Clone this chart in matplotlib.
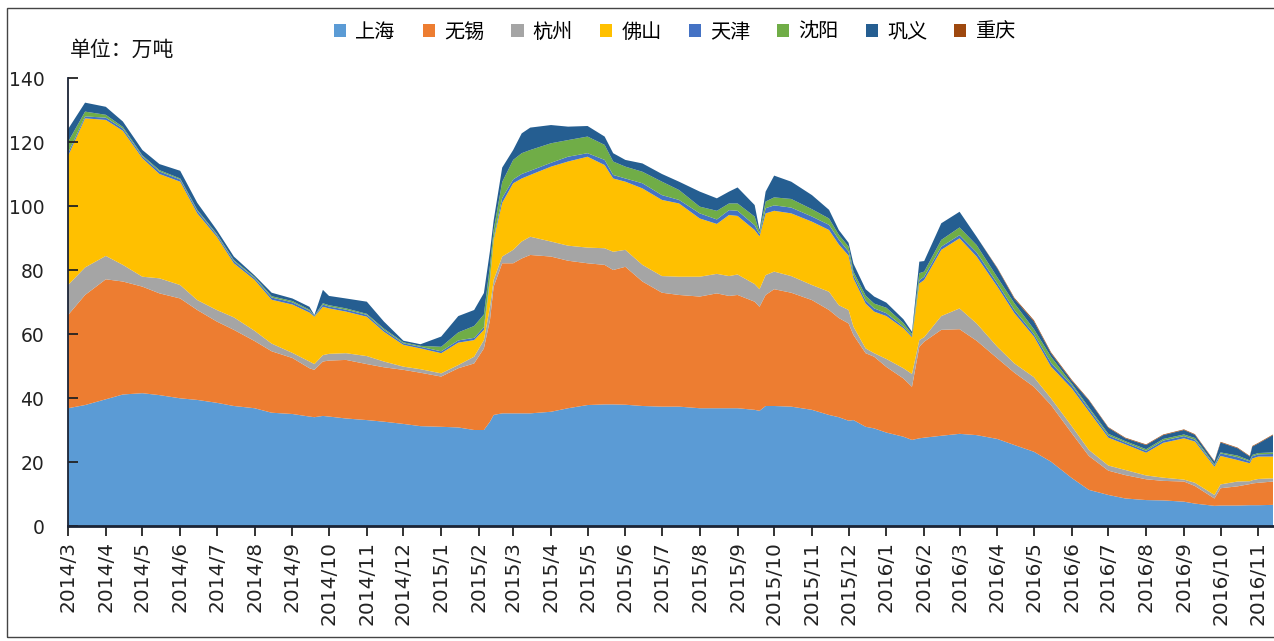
import matplotlib
matplotlib.use("Agg")
import matplotlib.pyplot as plt
from matplotlib.patches import Rectangle, Patch
import pandas as pd

dates = ["2014-03-01", "2014-03-15", "2014-04-01", "2014-04-15", "2014-05-01", "2014-05-15",
         "2014-06-01", "2014-06-15", "2014-07-01", "2014-07-15", "2014-08-01", "2014-08-15",
         "2014-09-01", "2014-09-15", "2014-09-19", "2014-09-26", "2014-10-01", "2014-10-15",
         "2014-11-01", "2014-11-15", "2014-12-01", "2014-12-15", "2015-01-01", "2015-01-15",
         "2015-01-28", "2015-02-05", "2015-02-10", "2015-02-13", "2015-02-20", "2015-03-01",
         "2015-03-08", "2015-03-15", "2015-04-01", "2015-04-15", "2015-05-01", "2015-05-15",
         "2015-05-22", "2015-06-01", "2015-06-15", "2015-07-01", "2015-07-15", "2015-08-01",
         "2015-08-15", "2015-08-25", "2015-09-01", "2015-09-15", "2015-09-19", "2015-09-24",
         "2015-10-01", "2015-10-15", "2015-11-01", "2015-11-15", "2015-11-23", "2015-12-01",
         "2015-12-05", "2015-12-15", "2015-12-22", "2016-01-01", "2016-01-15", "2016-01-22",
         "2016-01-28", "2016-02-01", "2016-02-15", "2016-03-01", "2016-03-15", "2016-04-01",
         "2016-04-15", "2016-05-01", "2016-05-15", "2016-06-01", "2016-06-15", "2016-07-01",
         "2016-07-15", "2016-08-01", "2016-08-15", "2016-09-01", "2016-09-10", "2016-09-26",
         "2016-10-01", "2016-10-15", "2016-10-25", "2016-10-27", "2016-11-01", "2016-11-13"]

shanghai = [36.8, 37.8, 39.6, 41.1, 41.5, 40.9, 39.9, 39.4, 38.5, 37.5, 36.8, 35.4,
            35.0, 34.2, 34.0, 34.4, 34.2, 33.6, 33.1, 32.6, 31.9, 31.2, 31.0, 30.8,
            30.0, 30.0, 32.6, 34.7, 35.2, 35.2, 35.2, 35.2, 35.7, 36.8, 37.8, 38.0,
            38.0, 37.9, 37.5, 37.3, 37.3, 36.8, 36.8, 36.8, 36.8, 36.3, 36.0, 37.5,
            37.5, 37.3, 36.3, 34.7, 34.0, 32.9, 33.1, 31.0, 30.5, 29.2, 27.9, 26.9,
            27.4, 27.6, 28.2, 28.8, 28.4, 27.2, 25.3, 23.2, 20.1, 15.0, 11.3, 9.7,
            8.6, 8.1, 8.0, 7.6, 7.0, 6.3, 6.4, 6.4, 6.5, 6.5, 6.5, 6.6]
wuxi = [29.1, 34.4, 37.5, 35.3, 33.3, 31.8, 31.2, 28.1, 25.4, 23.8, 21.0, 19.2,
        17.5, 15.1, 14.8, 17.0, 17.5, 18.3, 17.5, 17.0, 16.9, 16.7, 15.7, 18.5,
        20.8, 25.5, 31.8, 40.1, 46.9, 46.9, 48.4, 49.5, 48.5, 46.1, 44.3, 43.6,
        42.0, 43.1, 38.9, 35.6, 34.9, 34.9, 35.9, 35.1, 35.4, 33.8, 32.5, 34.7,
        36.5, 35.6, 34.3, 32.8, 31.0, 30.4, 26.6, 23.0, 22.4, 20.5, 18.2, 16.6,
        28.6, 30.0, 33.1, 32.7, 29.5, 25.2, 22.6, 20.3, 17.7, 14.0, 10.6, 7.6,
        7.3, 6.5, 6.1, 6.3, 5.5, 2.3, 5.4, 6.0, 6.6, 6.8, 7.0, 7.3]
hangzhou = [9.4, 8.6, 7.3, 5.2, 3.1, 4.7, 4.2, 3.1, 3.6, 3.9, 3.2, 2.4,
            1.6, 2.1, 1.8, 2.0, 2.1, 2.1, 2.5, 1.8, 1.0, 1.1, 1.0, 1.0,
            2.1, 2.6, 4.1, 2.1, 2.1, 4.2, 5.3, 5.7, 4.7, 4.7, 4.9, 5.2,
            5.7, 5.3, 5.2, 5.2, 5.7, 6.2, 6.1, 6.2, 6.4, 5.5, 5.5, 6.2,
            5.5, 5.2, 4.7, 5.7, 4.0, 4.2, 2.6, 1.5, 1.1, 2.5, 3.2, 4.0,
            2.1, 1.4, 4.3, 6.5, 5.4, 3.6, 2.9, 3.0, 2.1, 2.2, 1.9, 1.6,
            1.6, 1.2, 1.0, 0.6, 1.0, 1.1, 1.2, 1.5, 0.9, 1.0, 1.2, 1.0]
foshan = [40.3, 46.6, 42.5, 41.9, 37.0, 32.6, 32.3, 27.1, 22.9, 16.9, 15.9, 13.7,
          15.1, 15.3, 14.8, 15.1, 14.2, 13.0, 12.3, 9.3, 6.8, 6.5, 6.3, 7.0,
          5.2, 3.2, 8.4, 12.5, 16.8, 20.8, 19.7, 19.3, 23.4, 26.3, 28.4, 26.0,
          22.9, 21.3, 23.9, 23.8, 22.9, 18.2, 15.6, 19.1, 18.3, 16.9, 16.5, 19.3,
          19.0, 19.6, 19.8, 19.3, 19.0, 17.0, 15.1, 14.0, 13.0, 13.4, 12.5, 11.5,
          17.7, 17.9, 20.7, 21.9, 20.9, 18.8, 15.7, 12.7, 9.9, 11.8, 12.0, 8.7,
          8.0, 7.1, 10.9, 12.9, 12.9, 8.8, 8.9, 6.7, 5.6, 6.8, 7.0, 6.8]
tianjin = [0.9, 0.6, 0.7, 0.7, 0.6, 0.8, 0.7, 0.8, 0.6, 0.7, 0.6, 0.7,
           0.7, 0.6, 0.2, 0.7, 0.6, 0.6, 0.6, 0.6, 0.5, 0.5, 0.6, 0.7,
           0.7, 0.8, 0.7, 0.6, 1.5, 1.2, 1.4, 1.3, 1.2, 1.5, 1.1, 1.6,
           1.1, 1.0, 1.6, 1.5, 1.1, 1.6, 1.4, 1.5, 1.6, 1.5, 0.7, 1.6,
           1.7, 1.8, 1.6, 1.6, 1.5, 1.3, 1.0, 1.0, 1.0, 0.9, 0.5, 0.5,
           1.0, 1.0, 1.0, 1.0, 1.3, 1.0, 1.0, 0.8, 1.2, 1.0, 0.8, 0.7,
           0.6, 0.6, 0.7, 0.7, 0.6, 0.5, 0.8, 0.9, 0.6, 0.7, 0.7, 0.8]
shenyang = [3.5, 1.5, 0.9, 0.5, 0.3, 0.4, 0.3, 0.3, 0.3, 0.3, 0.3, 0.4,
            0.4, 0.3, 0.1, 0.4, 0.4, 0.4, 0.3, 0.4, 0.3, 0.3, 1.4, 2.5,
            3.7, 4.0, 3.9, 2.5, 5.0, 6.1, 6.5, 6.5, 6.1, 5.2, 5.2, 4.7,
            4.2, 3.7, 3.6, 4.2, 3.1, 2.1, 2.7, 2.1, 2.3, 2.7, 0.6, 2.1,
            2.5, 2.7, 2.3, 2.0, 1.5, 1.5, 1.1, 1.5, 1.5, 1.7, 1.1, 0.5,
            2.2, 1.6, 2.1, 2.4, 2.3, 1.9, 2.1, 1.5, 1.9, 0.5, 0.5, 0.5,
            0.4, 0.5, 0.5, 0.5, 0.5, 0.3, 0.3, 0.5, 0.3, 0.4, 0.4, 0.5]
gongyi = [4.0, 2.8, 2.5, 1.7, 1.7, 1.9, 2.4, 2.2, 1.2, 1.1, 0.5, 1.1,
          0.8, 0.9, 0.2, 4.2, 2.9, 3.1, 3.8, 2.2, 0.5, 0.5, 3.2, 5.1,
          5.0, 6.7, 4.5, 3.0, 4.5, 3.1, 6.2, 7.0, 5.7, 4.2, 3.3, 2.6,
          2.6, 2.1, 2.6, 2.4, 2.6, 4.7, 3.9, 3.7, 5.0, 3.6, 0.7, 3.1,
          6.8, 5.4, 4.4, 2.7, 1.5, 1.2, 2.5, 2.0, 2.2, 1.6, 1.2, 0.7,
          3.6, 3.3, 5.2, 4.9, 2.6, 2.8, 1.4, 2.4, 1.1, 0.9, 2.2, 1.9,
          0.9, 1.3, 1.2, 1.4, 1.0, 0.8, 3.1, 2.3, 1.2, 2.6, 3.0, 5.4]
chongqing = [0.0, 0.0, 0.0, 0.0, 0.0, 0.0, 0.0, 0.0, 0.0, 0.0, 0.0, 0.0,
             0.0, 0.0, 0.0, 0.0, 0.0, 0.0, 0.0, 0.0, 0.0, 0.0, 0.0, 0.0,
             0.0, 0.0, 0.0, 0.0, 0.0, 0.0, 0.0, 0.0, 0.0, 0.0, 0.0, 0.0,
             0.0, 0.0, 0.0, 0.0, 0.0, 0.0, 0.0, 0.0, 0.0, 0.0, 0.0, 0.0,
             0.0, 0.0, 0.0, 0.0, 0.0, 0.0, 0.0, 0.0, 0.0, 0.0, 0.0, 0.0,
             0.0, 0.0, 0.0, 0.0, 0.0, 0.2, 0.3, 0.4, 0.3, 0.3, 0.2, 0.2,
             0.2, 0.2, 0.2, 0.2, 0.2, 0.2, 0.2, 0.2, 0.2, 0.2, 0.2, 0.2]

series_names = ["上海", "无锡", "杭州", "佛山", "天津", "沈阳", "巩义", "重庆"]
colors = ["#5B9BD5", "#ED7D31", "#A5A5A5", "#FFC000", "#4472C4", "#70AD47", "#255E91", "#9E480E"]
tick_months = pd.date_range("2014-03-01", "2016-11-01", freq="MS")
tick_labels = [f"{d.year}/{d.month}" for d in tick_months]

plt.rcParams['font.family'] = ['Noto Sans CJK SC', 'DejaVu Sans']

W, H = 1274, 641
fig = plt.figure(figsize=(W / 100, H / 100), dpi=100)
ax = fig.add_axes([68 / W, (H - 526) / H, (1273 - 68) / W, (526 - 78) / H])

x = pd.to_datetime(dates)
ax.stackplot(x, shanghai, wuxi, hangzhou, foshan, tianjin, shenyang, gongyi, chongqing,
             colors=colors, linewidth=0)

ax.set_ylim(0, 140)
ax.set_xlim(x[0], x[-1])
ax.set_yticks(range(0, 141, 20))
ax.set_xticks(tick_months)
ax.set_xticklabels(tick_labels, rotation=90, family='DejaVu Sans', fontsize=14.5, color='#222222')
for lab in ax.get_yticklabels():
    lab.set_family('DejaVu Sans')
ax.tick_params(axis='y', direction='in', length=7, width=1.3, pad=17, labelsize=13.5,
               colors='#222222')
ax.tick_params(axis='x', direction='out', length=7, width=1.3, pad=4, colors='#222222')
for s in ['top', 'right']:
    ax.spines[s].set_visible(False)
ax.spines['left'].set_color('#1b2436')
ax.spines['left'].set_linewidth(1.3)
ax.spines['bottom'].set_color('#1b2436')
ax.spines['bottom'].set_linewidth(2.0)

fig.text(70 / W, (H - 50) / H, "单位：万吨", fontsize=15, va='center', ha='left', color='#111111')

handles = [Patch(facecolor=c, edgecolor='none') for c in colors]
fig.legend(handles, series_names, loc='center', bbox_to_anchor=(675 / W, (H - 32) / H),
           ncol=8, frameon=False, fontsize=14.5, handlelength=0.6, handleheight=0.6,
           handletextpad=0.45, columnspacing=1.35)

fig.patches.append(Rectangle((7 / W, (H - 637) / H), 1.0, (637 - 8) / H, transform=fig.transFigure,
                             fill=False, edgecolor='#444444', linewidth=1.0))

fig.savefig("out.png", dpi=100)
